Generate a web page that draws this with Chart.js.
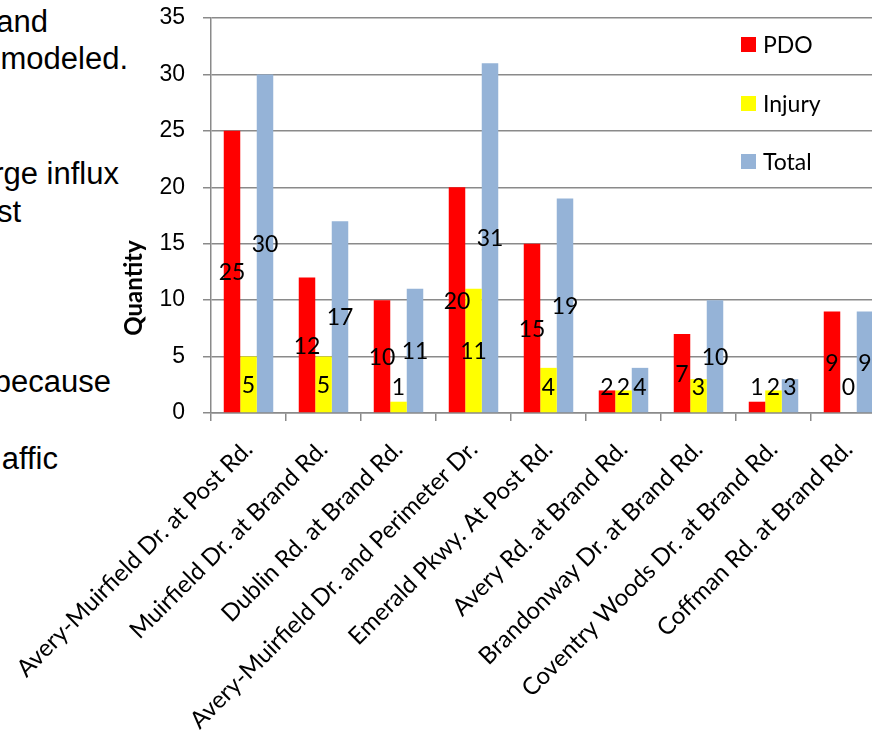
<!DOCTYPE html>
<html>
<head>
<meta charset="utf-8">
<script src="https://cdn.jsdelivr.net/npm/chart.js@4.4.1/dist/chart.umd.min.js"></script>
<style>
  html, body { margin: 0; padding: 0; width: 872px; height: 735px; overflow: hidden; background: #fff; }
  .slide-text { position: absolute; font-family: "Liberation Sans", Arial, sans-serif; font-size: 31px; color: #000; white-space: nowrap; line-height: 1; }
  #wrap { position: absolute; left: 0; top: 0; width: 900px; height: 735px; }
</style>
</head>
<body>
<div class="slide-text" style="right:824px; top:6px;">and</div>
<div class="slide-text" style="right:744px; top:43px;">modeled.</div>
<div class="slide-text" style="right:753px; top:158px;">rge influx</div>
<div class="slide-text" style="right:851px; top:196px;">st</div>
<div class="slide-text" style="right:761px; top:366px;">because</div>
<div class="slide-text" style="right:814px; top:443px;">affic</div>
<div id="wrap"><canvas id="chart" width="900" height="735"></canvas></div>
<script>
const categories = [
  "Avery-Muirfield Dr. at Post Rd.",
  "Muirfield Dr. at Brand Rd.",
  "Dublin Rd. at Brand Rd.",
  "Avery-Muirfield Dr. and Perimeter Dr.",
  "Emerald Pkwy. At Post Rd.",
  "Avery Rd. at Brand Rd.",
  "Brandonway Dr. at Brand Rd.",
  "Coventry Woods Dr. at Brand Rd.",
  "Coffman Rd. at Brand Rd."
];
const pdo    = [25, 12, 10, 20, 15, 2, 7, 1, 9];
const injury = [5, 5, 1, 11, 4, 2, 3, 2, 0];
const total  = [30, 17, 11, 31, 19, 4, 10, 3, 9];
const yTicks = [0, 5, 10, 15, 20, 25, 30, 35];
const yTitle = 'Quantity';

const GRID = '#8a8a8a';
const SANS = 'Lato, "Noto Sans", sans-serif';

// Value labels centred in each bar, kept clear of the category axis
const barLabels = {
  id: 'barLabels',
  afterDatasetsDraw(chart) {
    const ctx = chart.ctx;
    const yScale = chart.scales.y;
    const floorY = yScale.getPixelForValue(0) - 26;
    ctx.save();
    ctx.font = '23px ' + SANS;
    ctx.fillStyle = '#000';
    ctx.textAlign = 'center';
    ctx.textBaseline = 'middle';
    chart.data.datasets.forEach((ds, di) => {
      chart.getDatasetMeta(di).data.forEach((bar, i) => {
        const v = ds.data[i];
        const mid = yScale.getPixelForValue(v / 2);
        ctx.fillText(String(v), bar.x, Math.min(mid, floorY) + 1);
      });
    });
    ctx.restore();
  }
};

// Vertical legend on the right side of the plot, plus the value-axis title
const sideLegend = {
  id: 'sideLegend',
  afterDraw(chart) {
    const ctx = chart.ctx;
    const rows = [44.5, 103.5, 161.5];
    ctx.save();
    ctx.font = '23px ' + SANS;
    ctx.textAlign = 'left';
    ctx.textBaseline = 'middle';
    chart.data.datasets.forEach((ds, i) => {
      ctx.fillStyle = ds.backgroundColor;
      ctx.fillRect(741, rows[i] - 7.5, 15, 15);
      ctx.fillStyle = '#000';
      ctx.fillText(ds.label, 763, rows[i] + 1);
    });
    ctx.translate(134, 288);
    ctx.rotate(-Math.PI / 2);
    ctx.font = 'bold 24px ' + SANS;
    ctx.textAlign = 'center';
    ctx.fillText(yTitle, 0, 0);
    ctx.restore();
  }
};

new Chart(document.getElementById('chart'), {
  type: 'bar',
  data: {
    labels: categories,
    datasets: [
      { label: 'PDO', data: pdo, backgroundColor: '#FF0000' },
      { label: 'Injury', data: injury, backgroundColor: '#FFFF00' },
      { label: 'Total', data: total, backgroundColor: '#95B3D7' }
    ]
  },
  plugins: [barLabels, sideLegend],
  options: {
    responsive: false,
    animation: false,
    devicePixelRatio: 1,
    layout: { padding: { left: 150, top: 18, right: 14, bottom: 0 } },
    datasets: { bar: { barPercentage: 1, categoryPercentage: 0.66 } },
    plugins: { legend: { display: false }, tooltip: { enabled: false } },
    scales: {
      x: {
        offset: true,
        grid: { offset: true, drawOnChartArea: false, color: GRID, lineWidth: 1.5, tickLength: 8 },
        border: { color: GRID, width: 1.5 },
        ticks: {
          autoSkip: false, minRotation: 45, maxRotation: 45, padding: 14,
          color: '#000',
          font: { family: SANS, size: 24 }
        },
        afterFit(s) { s.height = 322; s.paddingLeft = 0; s.paddingRight = 0; }
      },
      y: {
        min: 0, max: 35,
        afterBuildTicks(s) { s.ticks = yTicks.map(v => ({ value: v })); },
        grid: { color: GRID, lineWidth: 1.5, tickLength: 8 },
        border: { color: GRID, width: 1.5 },
        ticks: {
          padding: 18, color: '#000',
          font: { family: '"Liberation Sans", Arial, sans-serif', size: 23 }
        },
        afterFit(s) { s.width = 61; s.paddingTop = 0; s.paddingBottom = 0; }
      }
    }
  }
});
</script>
</body>
</html>
